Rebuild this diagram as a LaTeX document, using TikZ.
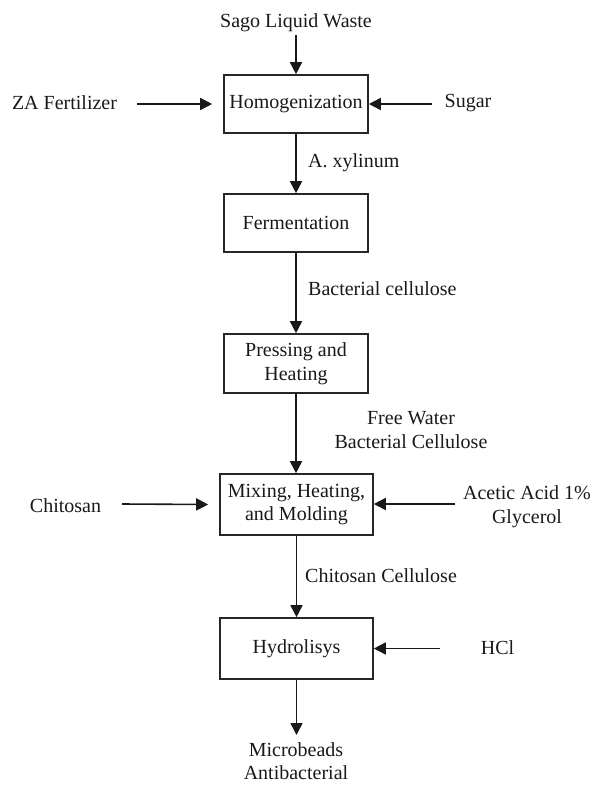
\documentclass[tikz,border=0pt]{standalone}
\usepackage{fontspec}
\setmainfont{Liberation Serif}
\usetikzlibrary{arrows.meta,calc}
\begin{document}
\begin{tikzpicture}[x=1pt,y=-1pt,
  every node/.style={font=\fontsize{20}{23.5}\selectfont, inner sep=0pt, text=black!90},
  proc/.style={draw=black!85, line width=1.6pt, align=center},
  lbl/.style={align=center},
  arr/.style={draw=black!90, line width=1.6pt, -{Triangle[length=12pt,width=12pt]}}]
\useasboundingbox (0,0) rectangle (592,785);
% process boxes
\node[proc, minimum width=144pt, minimum height=58pt] (homog) at (296,104) {Homogenization};
\node[proc, minimum width=144pt, minimum height=58pt] (ferm) at (296,223) {Fermentation};
\node[proc, minimum width=144pt, minimum height=59pt] (press) at (296,363.5) {Pressing and\\Heating};
\node[proc, minimum width=153pt, minimum height=61pt] (mix) at (296.5,504.5) {Mixing, Heating,\\and Molding};
\node[proc, minimum width=153pt, minimum height=61pt] (hydro) at (296.5,648.5) {Hydrolisys};
% texts
\node[lbl] (sago) at (296,23) {Sago Liquid Waste};
\node[lbl] (za) at (64.5,103) {ZA Fertilizer};
\node[lbl] (sugar) at (468,103) {Sugar};
\node[lbl, anchor=west] (xyl) at (308,163) {A. xylinum};
\node[lbl, anchor=west] (bcel) at (308,289) {Bacterial cellulose};
\node[lbl] (free) at (411,430) {Free Water\\Bacterial Cellulose};
\node[lbl] (chit) at (65.5,506) {Chitosan};
\node[lbl] (acetic) at (527,506.5) {Acetic Acid 1\%\\Glycerol};
\node[lbl, anchor=west] (chcel) at (305,576) {Chitosan Cellulose};
\node[lbl] (hcl) at (497.5,648) {HCl};
\node[lbl] (micro) at (296,761) {Microbeads\\Antibacterial};
% connector ends
\coordinate (sagoS) at (296,35);
\coordinate (zaS) at (137,104);
\coordinate (sugarS) at (432,104);
\coordinate (chitS) at (122,504);
\coordinate (aceticS) at (455,504);
\coordinate (hclS) at (440,648.5);
\coordinate (microE) at (296.5,735);
% connectors
\draw[arr] (sagoS) -- (homog.north);
\draw[arr] (zaS) -- ($(homog.west)+(-11,0)$);
\draw[arr] (sugarS) -- (homog.east);
\draw[arr] (homog.south) -- (ferm.north);
\draw[arr] (ferm.south) -- (press.north);
\draw[arr] (press.south) -- ($(mix.north)+(-0.5,0)$);
\draw[arr] (chitS) -- ($(mix.west)+(-11,0)$);
\draw[arr] (aceticS) -- (mix.east |- aceticS);
\draw[arr] (mix.south) -- (hydro.north);
\draw[arr] (hclS) -- (hydro.east);
\draw[arr] (hydro.south) -- (microE);
\end{tikzpicture}
\end{document}
